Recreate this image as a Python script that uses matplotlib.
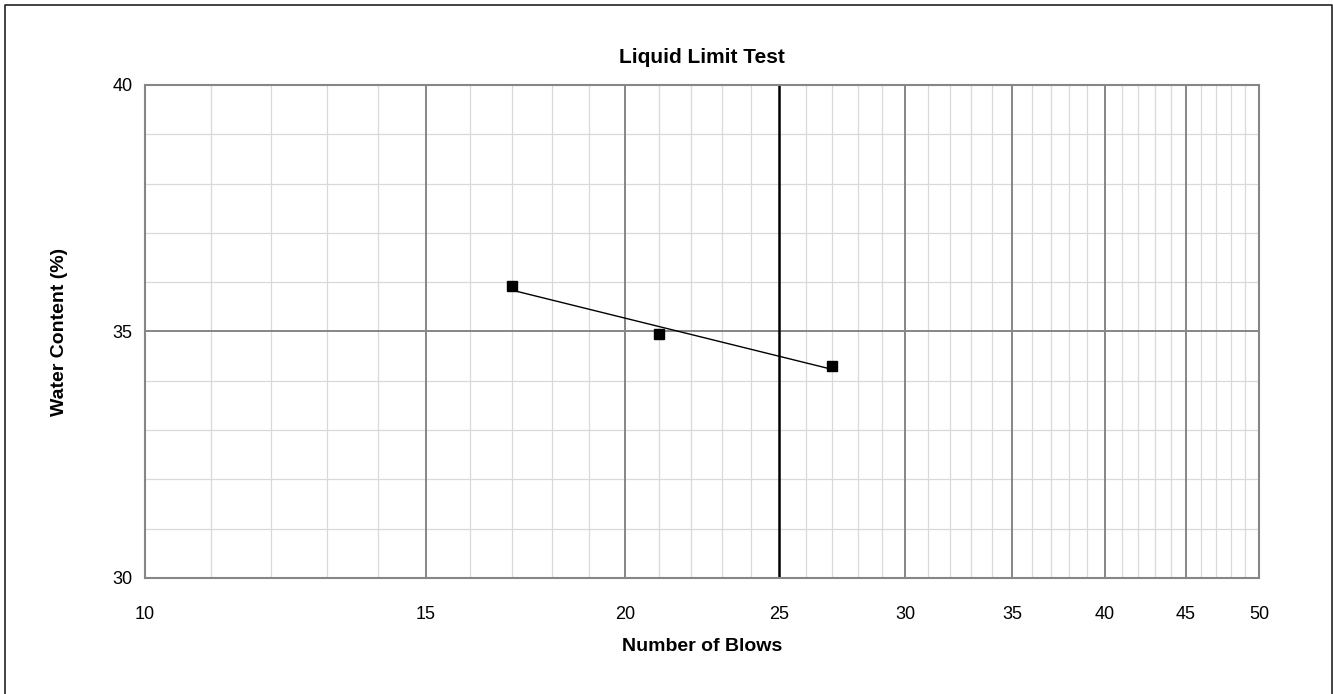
import numpy as np
import matplotlib
matplotlib.use("Agg")
import matplotlib.pyplot as plt
from matplotlib.ticker import FixedLocator, NullFormatter, FixedFormatter
from matplotlib.lines import Line2D

plt.rcParams['font.family'] = ['Liberation Sans', 'DejaVu Sans']

# Liquid limit test results
blows = [17.0, 21.0, 27.0]
water_content = [35.92, 34.95, 34.3]

x_ticks = [10, 15, 20, 25, 30, 35, 40, 45, 50]
x_tick_labels = ['10', '15', '20', '25', '30', '35', '40', '45', '50']
y_ticks = [30, 35, 40]
liquid_limit_blows = 25

W, H = 1333, 694
fig = plt.figure(figsize=(W / 100, H / 100), dpi=100)
ax = fig.add_axes([145 / W, 1 - 578 / H, (1259 - 145) / W, (578 - 85) / H])

ax.set_xscale('log')
ax.set_xlim(10, 50)
ax.set_ylim(30, 40)

# minor grid every integer, major grid at labelled ticks
minor_x = [v for v in range(11, 50) if v not in x_ticks]
minor_y = [v for v in range(31, 40) if v not in y_ticks]
for v in minor_x:
    ax.axvline(v, color='#d9d9d9', lw=0.9, zorder=0)
for v in minor_y:
    ax.axhline(v, color='#d9d9d9', lw=0.9, zorder=0)
for v in x_ticks[1:-1]:
    if v != liquid_limit_blows:
        ax.axvline(v, color='#868686', lw=1.4, zorder=1)
for v in y_ticks[1:-1]:
    ax.axhline(v, color='#868686', lw=1.4, zorder=1)
ax.axvline(liquid_limit_blows, color='black', lw=1.8, zorder=2)

ax.xaxis.set_major_locator(FixedLocator(x_ticks))
ax.xaxis.set_major_formatter(FixedFormatter(x_tick_labels))
ax.xaxis.set_minor_locator(FixedLocator([]))
ax.xaxis.set_minor_formatter(NullFormatter())
ax.yaxis.set_major_locator(FixedLocator(y_ticks))
ax.tick_params(axis='both', length=0, labelsize=13, colors='black')
ax.tick_params(axis='x', pad=20)
ax.tick_params(axis='y', pad=9)

for s in ax.spines.values():
    s.set_color('#868686')
    s.set_linewidth(1.5)

# logarithmic trend line through the test points
lx = np.log(blows)
a, b = np.polyfit(lx, water_content, 1)
xf = np.linspace(min(blows), max(blows), 100)
ax.plot(xf, a * np.log(xf) + b, color='black', lw=1.0, zorder=3)
ax.plot(blows, water_content, 's', color='black', ms=7.5, zorder=4, clip_on=False)

ax.set_title('Liquid Limit Test', fontsize=15, fontweight='bold', pad=16)
ax.set_xlabel('Number of Blows', fontsize=14, fontweight='bold', labelpad=11)
ax.set_ylabel('Water Content (%)', fontsize=14, fontweight='bold', labelpad=32)

# chart frame
fig.add_artist(Line2D([5 / W, 5 / W, 1332 / W, 1332 / W], [0, 1 - 5 / H, 1 - 5 / H, 0],
                      transform=fig.transFigure, color='#222222', lw=1.2))

fig.savefig('out.png', dpi=100, facecolor='white')
